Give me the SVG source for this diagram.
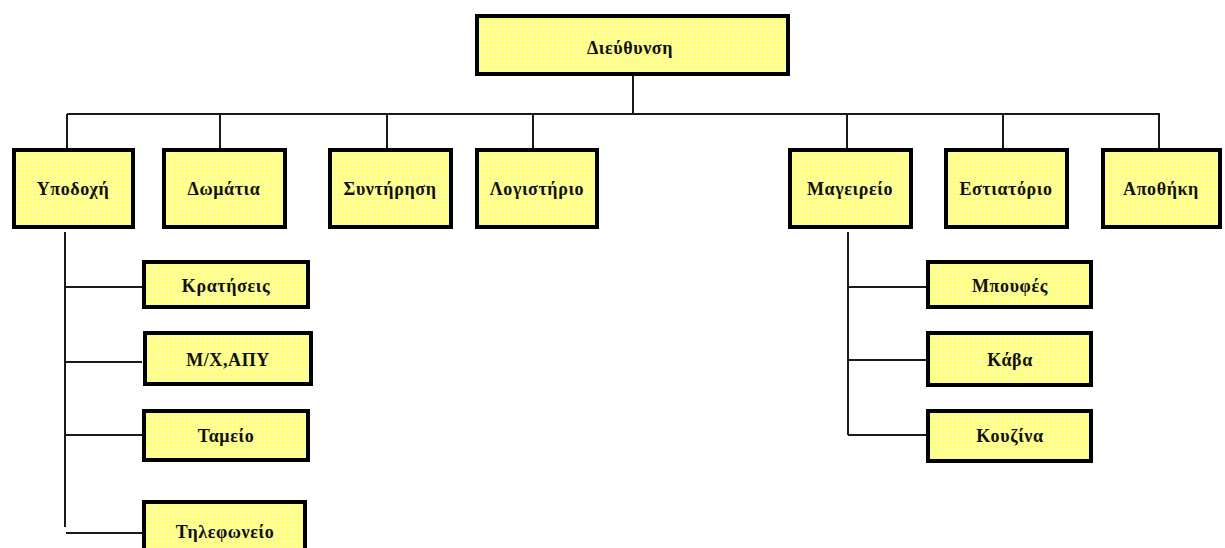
<svg xmlns="http://www.w3.org/2000/svg" width="1225" height="548" viewBox="0 0 1225 548">
  <defs>
    <!-- yellow fill with a fine grid -->
    <pattern id="grid" width="4" height="4" patternUnits="userSpaceOnUse">
      <rect width="4" height="4" fill="#ffff70"/>
      <path d="M0 0.5H4M0.5 0V4" stroke="#fbfbb8" stroke-width="1"/>
    </pattern>
    <style>
      .box { fill: url(#grid); stroke: #000; stroke-width: 4; }
      .lbl { font-family: "Liberation Serif", "Times New Roman", serif; font-weight: bold; font-size: 18px; letter-spacing: 0.6px; fill: #111; text-anchor: middle; }
      .wire { fill: none; stroke: #1a1a1a; stroke-width: 2; }
    </style>
  </defs>
  <rect width="1225" height="548" fill="#fff"/>

  <!-- connectors -->
  <g id="connectors" class="wire">
    <path d="M633 76V114M67 114H1160"/>
    <path d="M67 114V148M220 114V148M387 114V148M533 114V148M847 114V148M1003 114V148M1159 114V148"/>
    <path d="M65 232V527M65 287H142M65 362H142M65 435H142M66 533H142"/>
    <path d="M848 232V435M848 287H926M848 360H926M848 435H926"/>
  </g>

  <g id="dieuthynsi">
    <rect class="box" x="477" y="16" width="311" height="58"/>
    <text class="lbl" x="630" y="54">Διεύθυνση</text>
  </g>

  <g id="ypodochi">
    <rect class="box" x="14" y="150" width="119" height="77"/>
    <text class="lbl" x="73" y="195">Υποδοχή</text>
  </g>
  <g id="domatia">
    <rect class="box" x="164" y="150" width="121" height="77"/>
    <text class="lbl" x="224" y="195">Δωμάτια</text>
  </g>
  <g id="syntirisi">
    <rect class="box" x="330" y="150" width="121" height="77"/>
    <text class="lbl" x="390" y="195">Συντήρηση</text>
  </g>
  <g id="logistirio">
    <rect class="box" x="477" y="150" width="120" height="77"/>
    <text class="lbl" x="537" y="195">Λογιστήριο</text>
  </g>
  <g id="mageireio">
    <rect class="box" x="790" y="150" width="121" height="77"/>
    <text class="lbl" x="850" y="195">Μαγειρείο</text>
  </g>
  <g id="estiatorio">
    <rect class="box" x="946" y="150" width="121" height="77"/>
    <text class="lbl" x="1006" y="195">Εστιατόριο</text>
  </g>
  <g id="apothiki">
    <rect class="box" x="1103" y="150" width="117" height="77"/>
    <text class="lbl" x="1161" y="195">Αποθήκη</text>
  </g>

  <g id="kratiseis">
    <rect class="box" x="144" y="262" width="164" height="45"/>
    <text class="lbl" x="226" y="292">Κρατήσεις</text>
  </g>
  <g id="mx-apy">
    <rect class="box" x="145" y="333" width="166" height="51"/>
    <text class="lbl" x="228" y="366">Μ/Χ,ΑΠΥ</text>
  </g>
  <g id="tameio">
    <rect class="box" x="144" y="411" width="164" height="49"/>
    <text class="lbl" x="226" y="442">Ταμείο</text>
  </g>
  <g id="tilefoneio">
    <rect class="box" x="144" y="502" width="161" height="52"/>
    <text class="lbl" x="225" y="538">Τηλεφωνείο</text>
  </g>

  <g id="mpoufes">
    <rect class="box" x="928" y="262" width="163" height="45"/>
    <text class="lbl" x="1010" y="292">Μπουφές</text>
  </g>
  <g id="kava">
    <rect class="box" x="928" y="333" width="163" height="52"/>
    <text class="lbl" x="1010" y="366">Κάβα</text>
  </g>
  <g id="kouzina">
    <rect class="box" x="928" y="411" width="163" height="50"/>
    <text class="lbl" x="1010" y="442">Κουζίνα</text>
  </g>
</svg>
